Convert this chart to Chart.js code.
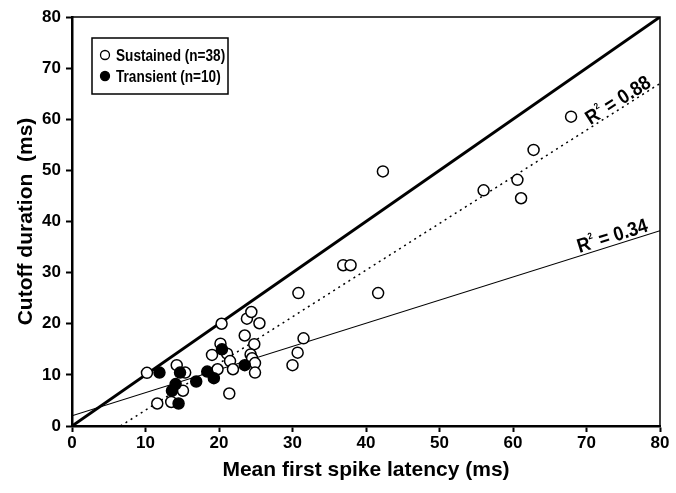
<!DOCTYPE html>
<html lang="en">
<head>
<meta charset="UTF-8">
<title>latency vs cutoff</title>
<script src="https://cdn.jsdelivr.net/npm/chart.js"></script>
<style>
  body { margin: 0; padding: 0; background: #fff; }
  #wrap { width: 676px; height: 493px; }
</style>
</head>
<body>
<div id="wrap"><canvas id="chart" width="676" height="493"></canvas></div>
<script>
// sustained cells: [latency, cutoff]
var sustainedX = [10.2, 11.6, 13.5, 14.25, 15.4, 15.1, 19.8, 19.05, 20.2, 20.35, 21.1, 21.5, 21.9, 21.4,
                  23.5, 23.8, 24.4, 25.5, 24.8, 24.3, 24.5, 24.9, 24.9, 30.0, 30.7, 31.5, 30.8,
                  42.3, 36.9, 37.9, 41.65, 67.9, 62.8, 60.6, 61.1, 56.0];
var sustainedY = [10.4, 4.4, 4.7, 11.9, 10.45, 6.9, 11.1, 13.9, 16.1, 20.0, 14.15, 12.7, 11.1, 6.35,
                  17.7, 21.0, 22.3, 20.1, 16.0, 14.0, 13.25, 12.3, 10.45, 11.9, 14.35, 17.15, 26.0,
                  49.8, 31.45, 31.45, 26.0, 60.5, 54.0, 48.15, 44.55, 46.1];
// transient cells
var transientX = [11.9, 14.7, 14.1, 13.6, 14.5, 16.9, 18.4, 19.3, 20.4, 23.5];
var transientY = [10.45, 10.45, 8.2, 6.9, 4.4, 8.7, 10.65, 9.35, 15.0, 11.9];

// lines: unity, fit for all (R2 0.88), fit for transient (R2 0.34)
var unityX = [0, 80], unityY = [0, 80];
var fitAX = [6.6, 80], fitAY = [0, 67];
var fitBX = [0, 80], fitBY = [2, 38.2];

var ticks = [0, 10, 20, 30, 40, 50, 60, 70, 80];
var legendLabels = ['Sustained (n=38)', 'Transient (n=10)'];
var fitLabels = ['0.88', '0.34'];

var FONT = "'Liberation Sans', Arial, sans-serif";

function pts(xs, ys) {
  return xs.map(function (x, i) { return { x: x, y: ys[i] }; });
}

// frame on top/right, legend box and R2 labels
var extras = {
  id: 'extras',
  afterDraw: function (chart) {
    var ctx = chart.ctx, a = chart.chartArea;
    var xs = chart.scales.x, ys = chart.scales.y;
    ctx.save();
    ctx.strokeStyle = '#000';
    ctx.lineWidth = 1.5;
    ctx.beginPath();
    ctx.moveTo(a.left, a.top);
    ctx.lineTo(a.right, a.top);
    ctx.lineTo(a.right, a.bottom);
    ctx.stroke();

    // legend
    ctx.lineWidth = 1.5;
    ctx.strokeRect(92, 38, 136, 56);
    ctx.textBaseline = 'middle';
    ctx.fillStyle = '#000';
    var rows = [55, 76];
    for (var i = 0; i < 2; i++) {
      ctx.beginPath();
      ctx.arc(105, rows[i], 4.5, 0, Math.PI * 2);
      if (i === 1) { ctx.fill(); }
      ctx.lineWidth = 1.3;
      ctx.stroke();
      ctx.save();
      ctx.translate(116, rows[i] + 1);
      ctx.scale(0.8, 1);
      ctx.font = 'bold 17px ' + FONT;
      ctx.fillText(legendLabels[i], 0, 0);
      ctx.restore();
    }

    // R2 labels along the fit lines
    function label(lx, ly, x0, text, gap) {
      var px1 = xs.getPixelForValue(lx[0]), py1 = ys.getPixelForValue(ly[0]);
      var px2 = xs.getPixelForValue(lx[1]), py2 = ys.getPixelForValue(ly[1]);
      var ang = Math.atan2(py2 - py1, px2 - px1);
      var t = (x0 - lx[0]) / (lx[1] - lx[0]);
      var cx = px1 + (px2 - px1) * t, cy = py1 + (py2 - py1) * t;
      ctx.save();
      ctx.translate(cx, cy);
      ctx.rotate(ang);
      ctx.scale(0.9, 1);
      ctx.textBaseline = 'alphabetic';
      ctx.font = 'bold 20px ' + FONT;
      var wR = ctx.measureText('R').width;
      ctx.font = 'bold 9px ' + FONT;
      var w2 = ctx.measureText('2').width;
      ctx.font = 'bold 20px ' + FONT;
      var rest = ' = ' + text;
      var wRest = ctx.measureText(rest).width;
      var total = wR + w2 + wRest;
      var x = -total / 2;
      ctx.fillText('R', x, -gap);
      ctx.font = 'bold 9px ' + FONT;
      ctx.fillText('2', x + wR, -gap - 10);
      ctx.font = 'bold 20px ' + FONT;
      ctx.fillText(rest, x + wR + w2, -gap);
      ctx.restore();
    }
    label(fitAX, fitAY, 74.9, fitLabels[0], 2);
    label(fitBX, fitBY, 73.9, fitLabels[1], 3);
    ctx.restore();
  }
};

new Chart(document.getElementById('chart').getContext('2d'), {
  type: 'scatter',
  data: {
    datasets: [
      { label: 'unity', data: pts(unityX, unityY), showLine: true, borderColor: '#000', borderWidth: 3,
        pointRadius: 0, order: 5 },
      { label: 'fit all', data: pts(fitAX, fitAY), showLine: true, borderColor: '#000', borderWidth: 1.5,
        borderDash: [2, 4], pointRadius: 0, order: 5 },
      { label: 'fit transient', data: pts(fitBX, fitBY), showLine: true, borderColor: '#000', borderWidth: 1.2,
        pointRadius: 0, order: 5 },
      { label: legendLabels[0], data: pts(sustainedX, sustainedY), pointRadius: 5.5, pointBorderWidth: 1.5,
        backgroundColor: '#fff', borderColor: '#000', order: 2 },
      { label: legendLabels[1], data: pts(transientX, transientY), pointRadius: 5.5, pointBorderWidth: 1.5,
        backgroundColor: '#000', borderColor: '#000', order: 1 }
    ]
  },
  options: {
    responsive: false,
    animation: false,
    layout: { padding: { left: 0, right: 16, top: 17, bottom: 0 } },
    plugins: { legend: { display: false }, tooltip: { enabled: false } },
    scales: {
      x: {
        min: 0, max: 80,
        afterBuildTicks: function (s) { s.ticks = ticks.map(function (v) { return { value: v }; }); },
        afterFit: function (s) { s.height = 67; },
        border: { color: '#000', width: 2.5 },
        grid: { drawOnChartArea: false, drawTicks: true, tickLength: 6, tickColor: '#000', tickWidth: 2 },
        ticks: { color: '#000', padding: 1, font: { family: FONT, size: 17, weight: 'bold' } },
        title: { display: true, text: 'Mean first spike latency (ms)', color: '#000',
                 font: { family: FONT, size: 21, weight: 'bold' }, padding: { top: 0, bottom: 10 } }
      },
      y: {
        min: 0, max: 80,
        afterBuildTicks: function (s) { s.ticks = ticks.map(function (v) { return { value: v }; }); },
        afterFit: function (s) { s.width = 72; },
        border: { color: '#000', width: 2.5 },
        grid: { drawOnChartArea: false, drawTicks: true, tickLength: 6, tickColor: '#000', tickWidth: 2 },
        ticks: { color: '#000', padding: 5, font: { family: FONT, size: 17, weight: 'bold' } },
        title: { display: true, text: 'Cutoff duration  (ms)', color: '#000',
                 font: { family: FONT, size: 21, weight: 'bold' }, padding: { top: 14, bottom: 0 } }
      }
    }
  },
  plugins: [extras]
});
</script>
</body>
</html>
